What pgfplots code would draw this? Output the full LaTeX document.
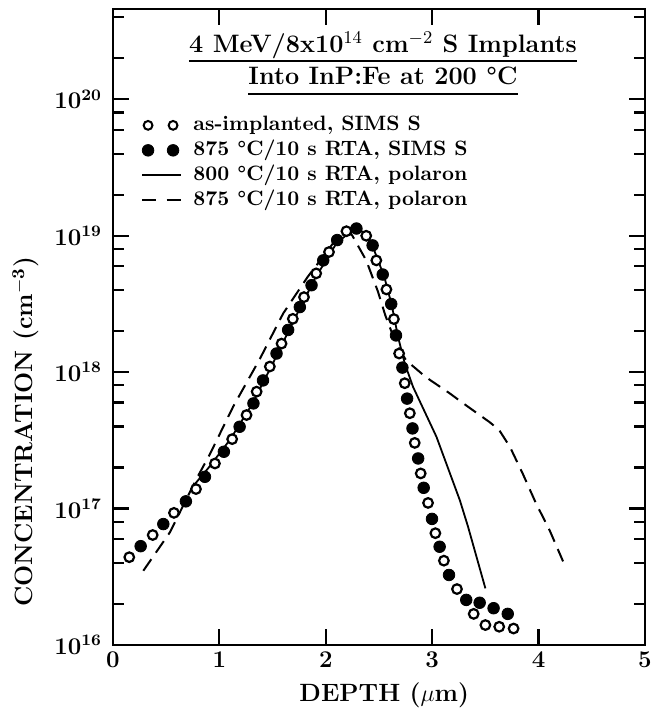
\documentclass[border=0pt]{standalone}
\usepackage{pgfplots}
\pgfplotsset{compat=1.18}
\pgfplotstableread{
x y
0.153 4.4e16
0.373 6.4e16
0.573 9.3e16
0.780 1.39e17
0.958 2.14e17
1.120 3.23e17
1.255 4.85e17
1.350 7.2e17
1.474 1.10e18
1.584 1.62e18
1.690 2.46e18
1.795 3.55e18
1.910 5.3e18
2.030 7.6e18
2.194 1.08e19
2.380 1.00e19
2.475 6.6e18
2.570 4.04e18
2.640 2.45e18
2.689 1.37e18
2.742 8.3e17
2.790 5.0e17
2.836 3.03e17
2.892 1.81e17
2.961 1.10e17
3.030 6.6e16
3.110 4.15e16
3.233 2.57e16
3.390 1.69e16
3.500 1.40e16
3.630 1.36e16
3.765 1.32e16
}\asimpl
\pgfplotstableread{
x y
0.260 5.3e16
0.473 7.7e16
0.685 1.13e17
0.864 1.71e17
1.042 2.61e17
1.190 3.98e17
1.320 5.9e17
1.410 8.7e17
1.537 1.37e18
1.646 2.04e18
1.756 3.0e18
1.866 4.34e18
1.976 6.6e18
2.107 9.3e18
2.288 1.13e19
2.440 8.5e18
2.535 5.2e18
2.615 3.16e18
2.660 1.86e18
2.720 1.08e18
2.764 6.4e17
2.815 3.87e17
2.868 2.33e17
2.920 1.42e17
2.998 8.4e16
3.070 5.25e16
3.158 3.26e16
3.320 2.14e16
3.446 2.04e16
3.577 1.86e16
3.710 1.69e16
}\rtasims
\pgfplotstableread{
x y
0.75 1.45e17
0.90 2.0e17
1.10 3.2e17
1.30 5.7e17
1.50 1.15e18
1.70 2.4e18
1.90 4.9e18
2.10 8.8e18
2.25 1.1e19
2.35 1.07e19
2.45 8.0e18
2.55 5.0e18
2.62 3.1e18
2.68 1.8e18
2.742 1.16e18
2.82 7.8e17
3.04 3.36e17
3.26 1.15e17
3.336 7.4e16
3.50 2.6e16
}\polA
\pgfplotstableread{
x y
0.285 3.5e16
0.535 6.7e16
0.786 1.66e17
0.91 2.5e17
1.13 5.6e17
1.38 1.25e18
1.60 2.7e18
1.83 5.0e18
1.96 6.8e18
2.10 9.5e18
2.21 1.1e19
2.25 1.0e19
2.38 6.6e18
2.49 3.9e18
2.56 2.6e18
2.66 1.62e18
2.755 1.22e18
2.94 9.2e17
3.164 7.0e17
3.32 5.7e17
3.54 4.3e17
3.63 3.76e17
3.73 2.84e17
3.85 1.81e17
3.976 1.09e17
4.103 6.95e16
4.23 4.1e16
}\polB
\begin{document}
\begin{tikzpicture}
\begin{axis}[
  name=ax,
  scale only axis,
  width=266pt, height=318pt,
  xmin=0, xmax=5,
  ymode=log, ymin=1e16, ymax=4.6e20,
  xtick={0,1,2,3,4,5},
  ytick={1e16,1e17,1e18,1e19,1e20},
  minor ytick={2e16,4e16,6e16,8e16,2e17,4e17,6e17,8e17,2e18,4e18,6e18,8e18,2e19,4e19,6e19,8e19,2e20,4e20},
  tick align=inside,
  major tick length=8pt, minor tick length=5.5pt,
  every tick/.style={black, line width=1.1pt},
  axis line style={line width=1.4pt},
  tick label style={font=\fontsize{11.5}{13}\selectfont\bfseries\boldmath},
  yticklabel style={xshift=-2pt},
  xlabel={DEPTH ($\mu$m)},
  ylabel={CONCENTRATION (cm$^{\mathbf{-3}}$)},
  label style={font=\fontsize{12.5}{14}\selectfont\bfseries},
  xlabel style={at={(axis description cs:0.51,-0.079)}, anchor=center},
  ylabel style={at={(axis description cs:-0.164,0.335)}, anchor=center},
  legend style={draw=none, fill=none, at={(axis description cs:0.052,0.8373)}, anchor=north west,
    inner sep=0pt, row sep=0pt, font=\fontsize{10.4}{12}\selectfont\bfseries,
    nodes={inner xsep=0pt, inner ysep=1.5pt, text height=7.2pt, text depth=2.3pt}},
  legend cell align=left,
]
\addlegendimage{legend image code/.code={\path (0pt,0pt) (25.5pt,0pt);
  \draw[black, fill=white, line width=1pt] (3pt,0pt) circle[radius=2.2pt] (15.5pt,0pt) circle[radius=2.2pt];}}
\addlegendentry{as-implanted, SIMS S}
\addlegendimage{legend image code/.code={\path (0pt,0pt) (25.5pt,0pt);
  \fill[black] (3pt,0pt) circle[radius=2.9pt] (15.5pt,0pt) circle[radius=2.9pt];}}
\addlegendentry{875 \textdegree C/10 s RTA, SIMS S}
\addlegendimage{legend image code/.code={\path (0pt,0pt) (25.5pt,0pt);
  \draw[black, line width=1pt] (0pt,0pt) -- (19.6pt,0pt);}}
\addlegendentry{800 \textdegree C/10 s RTA, polaron}
\addlegendimage{legend image code/.code={\path (0pt,0pt) (25.5pt,0pt);
  \draw[black, line width=1pt] (0pt,0pt) -- (7pt,0pt) (12.3pt,0pt) -- (19.6pt,0pt);}}
\addlegendentry{875 \textdegree C/10 s RTA, polaron}

\addplot[forget plot, black, line width=1pt, dash pattern=on 7pt off 4pt] table {\polB};
\addplot[forget plot, black, line width=0.9pt] table {\polA};
\addplot[forget plot, only marks, mark=*, mark size=2.9pt, mark options={fill=black, draw=black}] table {\rtasims};
\addplot[forget plot, only marks, mark=*, mark size=2.4pt, mark options={fill=white, draw=black, line width=1.1pt}] table {\asimpl};

\node[anchor=base, inner sep=0pt, font=\fontsize{12.6}{14}\selectfont\bfseries] (t1) at (rel axis cs:0.5075,0.932) {4 MeV/8x10$^{14}$ cm$^{-2}$ S Implants};
\node[anchor=base, inner sep=0pt, font=\fontsize{12.6}{14}\selectfont\bfseries] (t2) at (rel axis cs:0.5075,0.8805) {Into InP:Fe at 200 \textdegree C};
\draw[line width=0.9pt] ([yshift=-4.35pt]t1.base west) -- ([yshift=-4.35pt]t1.base east);
\draw[line width=0.9pt] ([yshift=-4.5pt]t2.base west) -- ([yshift=-4.5pt]t2.base east);
\end{axis}
\pgfresetboundingbox
\path (ax.south west) ++(-56.5pt,-34pt) rectangle ++(332.5pt,356.5pt);
\end{tikzpicture}
\end{document}
